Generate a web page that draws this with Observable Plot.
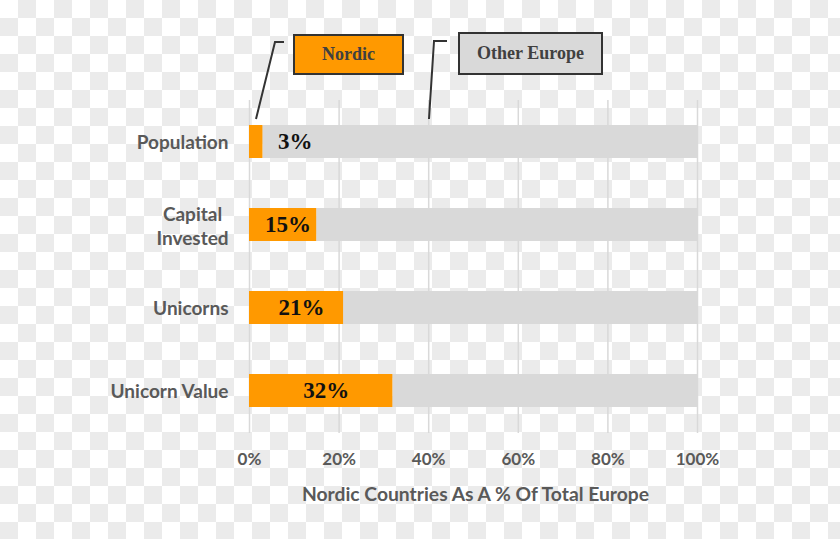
<!DOCTYPE html>
<html>
<head>
<meta charset="utf-8">
<script src="https://cdn.jsdelivr.net/npm/d3@7"></script>
<script src="https://cdn.jsdelivr.net/npm/@observablehq/plot@0.6"></script>
<style>
  html, body { margin: 0; padding: 0; }
  body {
    width: 840px; height: 539px; overflow: hidden;
    background: repeating-conic-gradient(#ebebeb 0 25%, #ffffff 0 50%) 0 0 / 36px 36px;
  }
  #wrap { position: relative; width: 840px; height: 539px; }
  #chart svg { display: block; }
  .legbox {
    position: absolute; box-sizing: border-box; border: 2px solid #333;
    display: flex; align-items: center; justify-content: center;
    font-family: "Liberation Serif", "DejaVu Serif", serif; font-weight: bold;
    font-size: 18px; color: #404040;
  }
  #leaders { position: absolute; left: 0; top: 0; pointer-events: none; }
</style>
</head>
<body>
<div id="wrap">
  <div id="chart"></div>
  <svg id="leaders" width="840" height="539">
    <polyline points="284,42 275,42 256,119" fill="none" stroke="#333" stroke-width="2"/>
    <polyline points="447,41 434,41 429,119" fill="none" stroke="#333" stroke-width="2"/>
  </svg>
  <div class="legbox" id="leg0" style="left:293px;top:34px;width:111px;height:41px;background:#ff9900;"></div>
  <div class="legbox" id="leg1" style="left:458px;top:32px;width:145px;height:43px;background:#d9d9d9;"></div>
</div>
<script>
const categories = ["Population", "Capital Invested", "Unicorns", "Unicorn Value"];
const nordicShare = [3, 15, 21, 32];
const total = 100;
const xTicks = [0, 20, 40, 60, 80, 100];
const seriesNames = ["Nordic", "Other Europe"];
const seriesColors = ["#ff9900", "#d9d9d9"];
const axisTitle = "Nordic Countries As A % Of Total Europe";

const rows = categories.map((c, i) => ({category: c, nordic: nordicShare[i], total}));

document.getElementById("leg0").textContent = seriesNames[0];
document.getElementById("leg1").textContent = seriesNames[1];

const sans = "Lato, 'Open Sans', sans-serif";
const labelColor = "#595959";

const chart = Plot.plot({
  width: 840,
  height: 539,
  marginLeft: 249,
  marginRight: 143,
  marginTop: 100,
  marginBottom: 106,
  style: {background: "transparent", fontFamily: sans},
  x: {domain: [0, 100], axis: null},
  y: {domain: categories, paddingInner: 0.6, paddingOuter: 0.3, axis: null},
  marks: [
    Plot.ruleX(xTicks, {stroke: "#d9d9d9", strokeWidth: 1.5}),
    Plot.barX(rows, {y: "category", x1: "nordic", x2: "total", fill: seriesColors[1]}),
    Plot.barX(rows, {y: "category", x1: 0, x2: "nordic", fill: seriesColors[0]}),
    Plot.text(rows.filter(d => d.nordic < 5), {
      y: "category", x: "nordic", text: d => d.nordic + "%",
      textAnchor: "start", dx: 15, fontFamily: "'Liberation Serif', serif",
      fontWeight: "bold", fontSize: 23, fill: "#111"
    }),
    Plot.text(rows.filter(d => d.nordic >= 5), {
      y: "category", x: d => d.nordic / 2, text: d => d.nordic + "%",
      textAnchor: "middle", dx: 5, fontFamily: "'Liberation Serif', serif",
      fontWeight: "bold", fontSize: 23, fill: "#111"
    }),
    Plot.axisX(xTicks, {
      tickSize: 0, tickPadding: 19, tickFormat: d => d + "%", label: null,
      fontSize: 17, fontWeight: "bold", fill: labelColor
    }),
    Plot.axisY(categories.filter(c => !c.includes(" ") || c === "Unicorn Value"), {
      tickSize: 0, tickPadding: 21, label: null, textAnchor: "end", dy: 1,
      fontSize: 19, fontWeight: "bold", fill: labelColor
    }),
    Plot.axisY(categories.filter(c => c.includes(" ") && c !== "Unicorn Value"), {
      tickSize: 0, tickPadding: 57, label: null, textAnchor: "middle",
      tickFormat: d => d.replace(" ", "\n"), lineHeight: 1.28,
      fontSize: 19, fontWeight: "bold", fill: labelColor
    }),
    Plot.text([axisTitle], {
      frameAnchor: "bottom", dy: 67, dx: 2, text: d => d,
      fontSize: 19.3, fontWeight: "bold", fill: labelColor
    })
  ]
});
document.getElementById("chart").appendChild(chart);
</script>
</body>
</html>
